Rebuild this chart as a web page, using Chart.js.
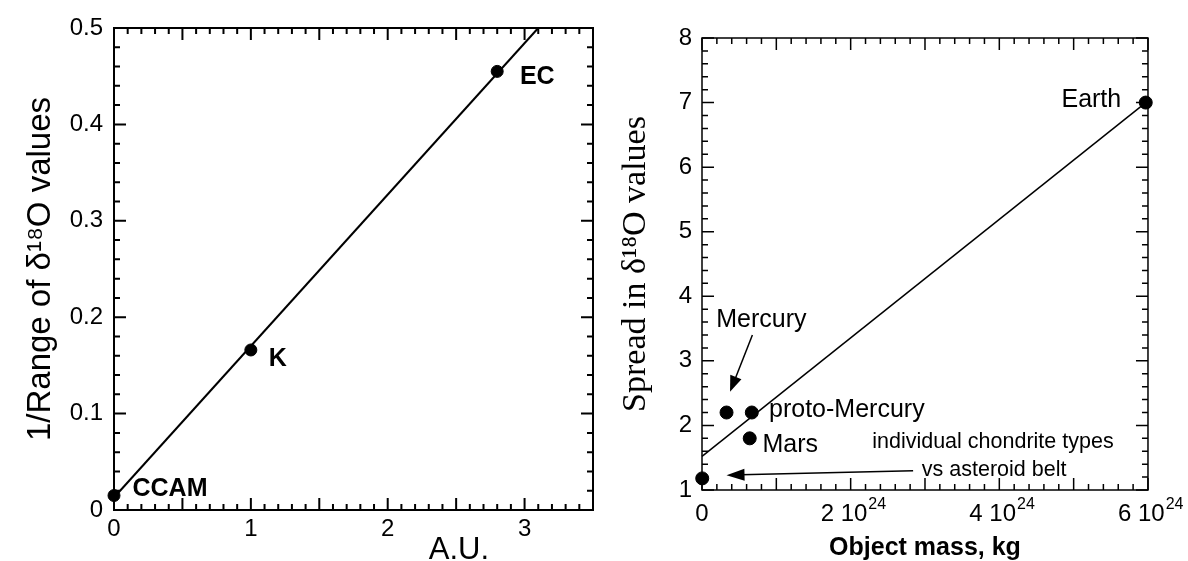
<!DOCTYPE html>
<html>
<head>
<meta charset="utf-8">
<script src="https://cdn.jsdelivr.net/npm/chart.js@4.4.1/dist/chart.umd.min.js"></script>
<style>
  html, body { margin: 0; padding: 0; background: #fff; }
  #left { position: absolute; left: 0; top: 0; }
  #right { position: absolute; left: 600px; top: 0; }
</style>
</head>
<body>
<canvas id="left" width="600" height="561"></canvas>
<canvas id="right" width="588" height="561"></canvas>
<script>
// left panel: 1/range of d18O against distance (A.U.)
var groupNames = ['CCAM', 'K', 'EC'];
var groupDist = [0, 1, 2.8];
var groupInvRange = [0.015, 0.166, 0.455];
var distFitX = [0, 3.1];
var distFitY = [0.013, 0.5];
var distTicks = [0, 1, 2, 3];
var invRangeTicks = [0, 0.1, 0.2, 0.3, 0.4, 0.5];

// right panel: spread in d18O against object mass
var bodyNames = ['asteroid belt', 'Mercury', 'Mars', 'proto-Mercury', 'Earth'];
var bodyMass = [0.003e24, 0.33e24, 0.642e24, 0.67e24, 5.97e24];
var bodySpread = [1.18, 2.2, 1.8, 2.2, 7.0];
var massFitX = [0, 5.97e24];
var massFitY = [1.52, 7.0];
var massTicks = [0, 2e24, 4e24, 6e24];
var massTickBase = ['0', '2 10', '4 10', '6 10'];
var massTickExp = ['', '24', '24', '24'];
var spreadTicks = [1, 2, 3, 4, 5, 6, 7, 8];

Chart.defaults.font.family = '"Liberation Sans", Arial, sans-serif';
Chart.defaults.color = '#000';

var sansFam = '"Liberation Sans", Arial, sans-serif';

function pts(xs, ys) {
    return xs.map(function (v, i) { return { x: v, y: ys[i] }; });
}

function massIndex(v) {
    return massTicks.findIndex(function (t) { return Math.abs(t - v) < 1e20; });
}

// box round the plot with inward ticks on all four sides
var frameTicks = {
    id: 'frameTicks',
    beforeDatasetsDraw: function (chart, args, o) {
        var ctx = chart.ctx, a = chart.chartArea;
        var x = chart.scales.x, y = chart.scales.y;
        ctx.save();
        ctx.strokeStyle = '#000';
        ctx.lineWidth = o.width;
        ctx.strokeRect(a.left, a.top, a.right - a.left, a.bottom - a.top);
        ctx.beginPath();
        var n = Math.round((x.max - x.min) / o.xMinor);
        var every = Math.round(o.xMajor / o.xMinor);
        for (var i = 0; i <= n; i++) {
            var px = x.getPixelForValue(x.min + i * o.xMinor);
            var len = i % every === 0 ? o.majorLen : o.minorLen;
            ctx.moveTo(px, a.bottom); ctx.lineTo(px, a.bottom - len);
            ctx.moveTo(px, a.top); ctx.lineTo(px, a.top + len);
        }
        n = Math.round((y.max - y.min) / o.yMinor);
        every = Math.round(o.yMajor / o.yMinor);
        for (var j = 0; j <= n; j++) {
            var py = y.getPixelForValue(y.min + j * o.yMinor);
            var l2 = j % every === 0 ? o.majorLen : o.minorLen;
            ctx.moveTo(a.left, py); ctx.lineTo(a.left + l2, py);
            ctx.moveTo(a.right, py); ctx.lineTo(a.right - l2, py);
        }
        ctx.stroke();
        ctx.restore();
    }
};

// exponents after the "2 10" style tick labels
var tickExp = {
    id: 'tickExp',
    afterDraw: function (chart) {
        var s = chart.scales.x, ctx = chart.ctx;
        var tf = Chart.helpers.toFont(s.options.ticks.font);
        var mid = s.top + s.options.ticks.padding + tf.lineHeight / 2;
        ctx.save();
        ctx.fillStyle = '#000';
        ctx.textBaseline = 'alphabetic';
        ctx.textAlign = 'left';
        s.ticks.forEach(function (t, i) {
            var k = massIndex(t.value);
            if (k < 0 || !massTickExp[k]) return;
            ctx.font = tf.string;
            var full = ctx.measureText(massTickBase[k] + '  ').width;
            var base = ctx.measureText(massTickBase[k]).width;
            var px = s.getPixelForTick(i);
            ctx.font = '16px ' + sansFam;
            ctx.fillText(massTickExp[k], px - full / 2 + base + 1, mid - 5);
        });
        ctx.restore();
    }
};

// text labels and arrows placed in data units
var notes = {
    id: 'notes',
    afterDatasetsDraw: function (chart, args, o) {
        var ctx = chart.ctx, x = chart.scales.x, y = chart.scales.y;
        ctx.save();
        ctx.fillStyle = '#000';
        ctx.strokeStyle = '#000';
        (o.texts || []).forEach(function (t) {
            ctx.font = t.font;
            ctx.textAlign = t.align || 'left';
            ctx.textBaseline = 'alphabetic';
            ctx.fillText(t.text, x.getPixelForValue(t.x), y.getPixelForValue(t.y));
        });
        (o.arrows || []).forEach(function (r) {
            var x1 = x.getPixelForValue(r.x1), y1 = y.getPixelForValue(r.y1);
            var x2 = x.getPixelForValue(r.x2), y2 = y.getPixelForValue(r.y2);
            var ang = Math.atan2(y2 - y1, x2 - x1);
            var c = Math.cos(ang), s = Math.sin(ang);
            ctx.lineWidth = 1.5;
            ctx.beginPath();
            ctx.moveTo(x1, y1);
            ctx.lineTo(x2 - c * r.len * 0.8, y2 - s * r.len * 0.8);
            ctx.stroke();
            ctx.beginPath();
            ctx.moveTo(x2, y2);
            ctx.lineTo(x2 - r.len * c + r.half * s, y2 - r.len * s - r.half * c);
            ctx.lineTo(x2 - r.len * c - r.half * s, y2 - r.len * s + r.half * c);
            ctx.closePath();
            ctx.fill();
        });
        ctx.restore();
    }
};

var boldFont = 'bold 25px ' + sansFam;
var plainFont = '25px ' + sansFam;
var smallFont = '21.5px ' + sansFam;

// Left chart
new Chart(document.getElementById('left').getContext('2d'), {
    type: 'scatter',
    data: {
        datasets: [{
            data: pts(distFitX, distFitY),
            showLine: true,
            borderColor: '#000',
            borderWidth: 2,
            pointRadius: 0,
            clip: false
        }, {
            data: pts(groupDist, groupInvRange),
            backgroundColor: '#000',
            borderColor: '#000',
            pointRadius: 6,
            clip: false
        }]
    },
    options: {
        responsive: false,
        animation: false,
        layout: { padding: { top: 28, right: 4, bottom: 0, left: 0 } },
        scales: {
            x: {
                type: 'linear',
                min: 0,
                max: 3.5,
                grid: { display: false, drawTicks: false },
                border: { display: false },
                ticks: {
                    stepSize: 1,
                    padding: 5,
                    maxRotation: 0,
                    autoSkip: false,
                    font: { size: 24 },
                    callback: function (v) { return distTicks.indexOf(v) >= 0 ? String(v) : ''; }
                },
                afterFit: function (s) { s.height = 51; }
            },
            y: {
                min: 0,
                max: 0.5,
                grid: { display: false, drawTicks: false },
                border: { display: false },
                ticks: {
                    stepSize: 0.1,
                    padding: 11,
                    font: { size: 24 },
                    callback: function (v) {
                        var k = invRangeTicks.findIndex(function (t) { return Math.abs(t - v) < 1e-9; });
                        return k === 0 ? '0' : (k > 0 ? invRangeTicks[k].toFixed(1) : '');
                    }
                },
                title: {
                    display: true,
                    text: '1/Range of δ¹⁸O values',
                    font: { size: 33 },
                    padding: { top: 21, bottom: 0 }
                },
                afterFit: function (s) { s.width = 114; }
            }
        },
        plugins: {
            legend: { display: false },
            tooltip: { enabled: false },
            frameTicks: { width: 2, xMinor: 0.1, xMajor: 0.5, yMinor: 0.02, yMajor: 0.1, minorLen: 6, majorLen: 12 },
            notes: {
                texts: [
                    { text: groupNames[0], x: 0.135, y: 0.0145, font: boldFont },
                    { text: groupNames[1], x: 1.13, y: 0.149, font: boldFont },
                    { text: groupNames[2], x: 2.966, y: 0.442, font: boldFont },
                    { text: 'A.U.', x: 2.52, y: -0.051, align: 'center', font: '31px ' + sansFam }
                ]
            }
        }
    },
    plugins: [frameTicks, notes]
});

// Right chart
new Chart(document.getElementById('right').getContext('2d'), {
    type: 'scatter',
    data: {
        datasets: [{
            data: pts(massFitX, massFitY),
            showLine: true,
            borderColor: '#000',
            borderWidth: 1.5,
            pointRadius: 0,
            clip: false
        }, {
            data: pts(bodyMass, bodySpread),
            backgroundColor: '#000',
            borderColor: '#000',
            pointRadius: 6.5,
            clip: false
        }]
    },
    options: {
        responsive: false,
        animation: false,
        layout: { padding: { top: 38, right: 32, bottom: 0, left: 0 } },
        scales: {
            x: {
                type: 'linear',
                min: 0,
                max: 6e24,
                grid: { display: false, drawTicks: false },
                border: { display: false },
                ticks: {
                    stepSize: 1e24,
                    padding: 10,
                    maxRotation: 0,
                    autoSkip: false,
                    font: { size: 24 },
                    callback: function (v) {
                        var k = massIndex(v);
                        if (k < 0) return '';
                        return massTickExp[k] ? massTickBase[k] + '  ' : massTickBase[k];
                    }
                },
                title: {
                    display: true,
                    text: 'Object mass, kg',
                    font: { size: 25, weight: 'bold', lineHeight: 1 },
                    padding: { top: 0, bottom: 0 }
                },
                afterFit: function (s) { s.height = 71; }
            },
            y: {
                min: 1,
                max: 8,
                grid: { display: false, drawTicks: false },
                border: { display: false },
                ticks: {
                    stepSize: 1,
                    padding: 10,
                    font: { size: 24 },
                    callback: function (v) { return spreadTicks.indexOf(v) >= 0 ? String(v) : ''; }
                },
                title: {
                    display: true,
                    text: 'Spread in δ¹⁸O values',
                    font: { size: 34, family: '"Liberation Serif", "Times New Roman", serif' },
                    padding: { top: 16, bottom: 0 }
                },
                afterFit: function (s) { s.width = 102; }
            }
        },
        plugins: {
            legend: { display: false },
            tooltip: { enabled: false },
            frameTicks: { width: 1.5, xMinor: 0.2e24, xMajor: 1e24, yMinor: 0.2, yMajor: 1, minorLen: 6, majorLen: 12 },
            notes: {
                texts: [
                    { text: bodyNames[4], x: 5.64e24, y: 6.93, align: 'right', font: plainFont },
                    { text: bodyNames[1], x: 0.192e24, y: 3.53, font: plainFont },
                    { text: bodyNames[3], x: 0.902e24, y: 2.127, font: plainFont },
                    { text: bodyNames[2], x: 0.813e24, y: 1.594, font: plainFont },
                    { text: 'individual chondrite types', x: 3.914e24, y: 1.646, align: 'center', font: smallFont },
                    { text: 'vs ' + bodyNames[0], x: 3.93e24, y: 1.217, align: 'center', font: smallFont }
                ],
                arrows: [
                    { x1: 0.678e24, y1: 3.40, x2: 0.377e24, y2: 2.52, len: 16, half: 6 },
                    { x1: 2.84e24, y1: 1.30, x2: 0.33e24, y2: 1.23, len: 18, half: 6 }
                ]
            }
        }
    },
    plugins: [frameTicks, notes, tickExp]
});
</script>
</body>
</html>
